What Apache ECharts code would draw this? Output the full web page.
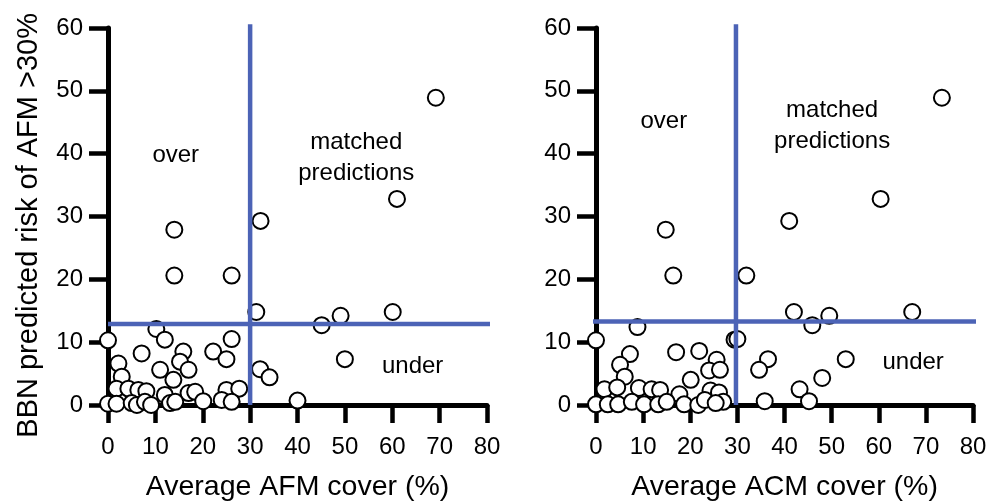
<!DOCTYPE html>
<html>
<head>
<meta charset="utf-8">
<script src="https://cdn.jsdelivr.net/npm/echarts@6/dist/echarts.min.js"></script>
<style>
html,body{margin:0;padding:0;background:#fff;}
#c{width:990px;height:502px;}
</style>
</head>
<body>
<div id="c"></div>
<script>
// Left panel: Average AFM cover (%) vs BBN predicted risk
const afmPoints = [
  [69.2,48.9],[61,32.8],[32.2,29.3],[14,27.9],[14,20.6],[26.1,20.6],
  [31.3,14.8],[60.1,14.8],[49.1,14.2],[45.1,12.7],[10.2,12.1],
  [0,10.3],[12,10.4],[26.1,10.5],[7.1,8.2],[15.9,8.5],[15.2,6.9],
  [22.2,8.5],[25,7.3],[50,7.3],[2.2,6.6],[11,5.6],[17,5.6],
  [32.1,5.7],[34.1,4.4],[2.9,4.5],[13.8,4.0],[1.8,2.6],[4.3,2.6],
  [6.4,2.4],[8.1,2.2],[12,1.6],[17,1.9],[18.4,2.1],[25,2.4],[27.7,2.6],
  [0,0.2],[1.8,0.2],[5,0.3],[6.1,0],[7.8,0.5],[9.1,0],[13.1,0.3],
  [14.2,0.5],[20.1,0.6],[24,0.8],[26.1,0.5],[40,0.7]
];
// Right panel: Average ACM cover (%) vs BBN predicted risk
const acmPoints = [
  [73.4,48.9],[60.4,32.8],[41,29.3],[14.8,27.9],[16.4,20.6],[31.9,20.6],
  [42,14.8],[67.1,14.8],[49.5,14.2],[45.9,12.7],[8.8,12.4],
  [0,10.3],[29.4,10.4],[30,10.5],[7.2,8.1],[17,8.4],[21.9,8.6],
  [25.6,7.2],[36.5,7.3],[53,7.3],[5.1,6.4],[24,5.5],[26.3,5.6],
  [34.6,5.6],[6.1,4.5],[48,4.3],[20.1,4.0],[1.8,2.5],[4.5,2.8],
  [9.1,2.7],[11.8,2.5],[13.6,2.4],[17.7,1.7],[43.2,2.5],[24.3,2.3],
  [26.1,2.0],[0,0.1],[2.5,0.1],[4.7,0.1],[7.6,0.5],[10.2,0.1],
  [13.2,0.1],[15,0.5],[18.7,0.1],[21.7,0],[23.1,0.8],[27,0.5],
  [35.8,0.6],[45.2,0.6],[25.4,0.3]
];
// Threshold lines
const afmVertical = [[30,0],[30,60.6]];
const afmHorizontal = [[0,12.9],[82.2,12.9]];
const acmVertical = [[29.7,0],[29.7,60.6]];
const acmHorizontal = [[-0.9,13.3],[82.1,13.3]];
// Quadrant annotations [x, y, text]
const afmNotes = [[14.3,39.8,'over'],[52.4,39.4,'matched\npredictions'],[64.3,6.1,'under']];
const acmNotes = [[14.4,45.1,'over'],[50.1,44.5,'matched\npredictions'],[67.3,6.8,'under']];
// Axis settings
const xTicks = {min:0,max:80,interval:10};
const yTicks = {min:0,max:60,interval:10};
const xTitles = ['Average AFM cover (%)','Average ACM cover (%)'];
const yTitle = 'BBN predicted risk of AFM >30%';

const FONT = 'Liberation Sans, Arial, sans-serif';
const BLUE = '#4c63b6';

function xAxisCfg(idx, name){
  return {
    type:'value', gridIndex:idx, min:xTicks.min, max:xTicks.max, interval:xTicks.interval,
    name:name, nameLocation:'middle', nameGap:68,
    nameTextStyle:{fontFamily:FONT,fontSize:28.5,color:'#000'},
    axisLine:{show:true,onZero:false,lineStyle:{color:'#000',width:5}},
    axisTick:{show:true,inside:false,length:18,lineStyle:{color:'#000',width:4.5}},
    axisLabel:{fontFamily:FONT,fontSize:24,color:'#000',margin:30},
    splitLine:{show:false}
  };
}
function yAxisCfg(idx){
  return {
    type:'value', gridIndex:idx, min:yTicks.min, max:yTicks.max, interval:yTicks.interval,
    axisLine:{show:true,onZero:false,lineStyle:{color:'#000',width:5}},
    axisTick:{show:true,inside:false,length:19,lineStyle:{color:'#000',width:4.5}},
    axisLabel:{fontFamily:FONT,fontSize:24,color:'#000',margin:25},
    splitLine:{show:false}
  };
}
function scatterSeries(idx, data){
  return {
    type:'scatter', xAxisIndex:idx, yAxisIndex:idx, data:data,
    symbol:'circle', symbolSize:16, clip:false, z:2,
    itemStyle:{color:'#fff',borderColor:'#000',borderWidth:2,opacity:1}
  };
}
function lineSeries(idx, data){
  return {
    type:'line', xAxisIndex:idx, yAxisIndex:idx, data:data, symbol:'none',
    clip:false, z:5, silent:true,
    lineStyle:{color:BLUE,width:4.5}
  };
}
function noteSeries(idx, notes){
  return {
    type:'scatter', xAxisIndex:idx, yAxisIndex:idx, symbolSize:1, z:6, silent:true,
    itemStyle:{opacity:0},
    data:notes.map(n=>({value:[n[0],n[1]],name:n[2]})),
    label:{show:true,position:'inside',formatter:p=>p.name,fontFamily:FONT,fontSize:24,
      color:'#000',opacity:1,lineHeight:31,align:'center',verticalAlign:'middle'}
  };
}

const chart = echarts.init(document.getElementById('c'),null,{renderer:'canvas'});
chart.setOption({
  backgroundColor:'#fff',
  animation:false,
  grid:[
    {left:108,right:503,top:28,bottom:97,outerBoundsMode:'none',containLabel:false},
    {left:596,right:17,top:28,bottom:97,outerBoundsMode:'none',containLabel:false}
  ],
  xAxis:[xAxisCfg(0,xTitles[0]),xAxisCfg(1,xTitles[1])],
  yAxis:[yAxisCfg(0),yAxisCfg(1)],
  graphic:[{
    type:'text', left:14, top:13, rotation:Math.PI/2,
    style:{text:yTitle, fontFamily:FONT, fontSize:29, fill:'#000'}
  }],
  series:[
    scatterSeries(0,afmPoints), scatterSeries(1,acmPoints),
    lineSeries(0,afmVertical), lineSeries(0,afmHorizontal),
    lineSeries(1,acmVertical), lineSeries(1,acmHorizontal),
    noteSeries(0,afmNotes), noteSeries(1,acmNotes)
  ]
});
</script>
</body>
</html>
